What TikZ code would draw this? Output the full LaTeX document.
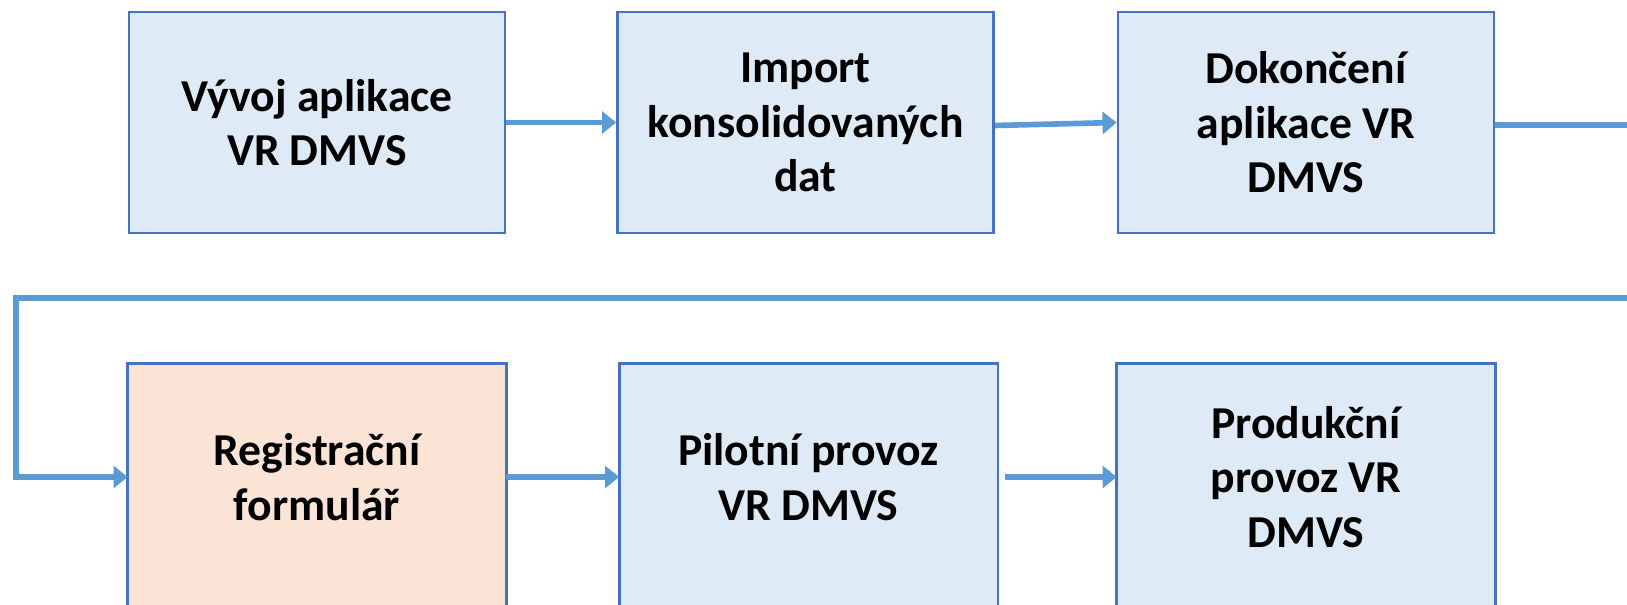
\documentclass[tikz,border=0pt]{standalone}
\usepackage{fontspec}
\setmainfont{Carlito}
\usetikzlibrary{arrows.meta, backgrounds}

\definecolor{boxfill}{HTML}{DEEAF6}
\definecolor{regfill}{HTML}{FBE4D6}
\definecolor{boxedge}{HTML}{4472C4}
\definecolor{flow}{HTML}{5B9BD5}

\begin{document}
\begin{tikzpicture}[x=0.02cm, y=-0.02cm,
  box/.style={draw=boxedge, line width=1.6pt, fill=boxfill, rectangle,
    minimum width=376*0.02cm, minimum height=221*0.02cm, text width=340*0.02cm,
    align=center, font=\fontsize{26}{31}\selectfont\bfseries,
    execute at begin node={\spaceskip=0.22em\relax}},
  cutbox/.style={box, draw=none, fill=none, minimum height=224*0.02cm},
  link/.style={draw=flow, line width=3.2pt, -{Triangle[length=8pt, width=12.5pt]}}]
\useasboundingbox (0,0) rectangle (1627,605);
\clip (0,0) rectangle (1627,605);
\coordinate (bot) at (0,640);

% upper row
\node[box] (vyvoj) at (317,122.5) {Vývoj aplikace\\VR DMVS};
\node[box] (import) at (805.5,122.5) {Import\\konsolidovaných\\dat};
\node[box] (dokonc) at (1306,122.5) {Dokončení\\aplikace VR\\DMVS};

% lower row (boxes run past the bottom edge)
\node[cutbox] (reg) at (317,477) {Registrační\\formulář};
\node[cutbox] (pilot) at (808.5,477) {Pilotní provoz\\VR DMVS};
\node[cutbox] (prod) at (1306,477) {Produkční\\provoz VR\\DMVS};
\begin{scope}[on background layer]
\foreach \n/\c in {reg/regfill, pilot/boxfill, prod/boxfill}
  \draw[draw=boxedge, line width=1.6pt, fill=\c] (\n.north west) rectangle (\n.east |- bot);
\end{scope}

\coordinate (out) at (1660,125);
\coordinate (back) at (1660,298);
\coordinate (left) at (16,298);

\draw[link] (vyvoj) -- (import);
\draw[link] (import.east) ++(0,3) -- (dokonc.west);
\draw[draw=flow, line width=3.2pt] (dokonc.east |- out) -- (out);
\draw[link] (back) -- (left) |- (reg.west);
\draw[link] (reg) -- (pilot);
\draw[link] ([xshift=7*0.02cm]pilot.east) -- (prod.west);
\end{tikzpicture}
\end{document}
